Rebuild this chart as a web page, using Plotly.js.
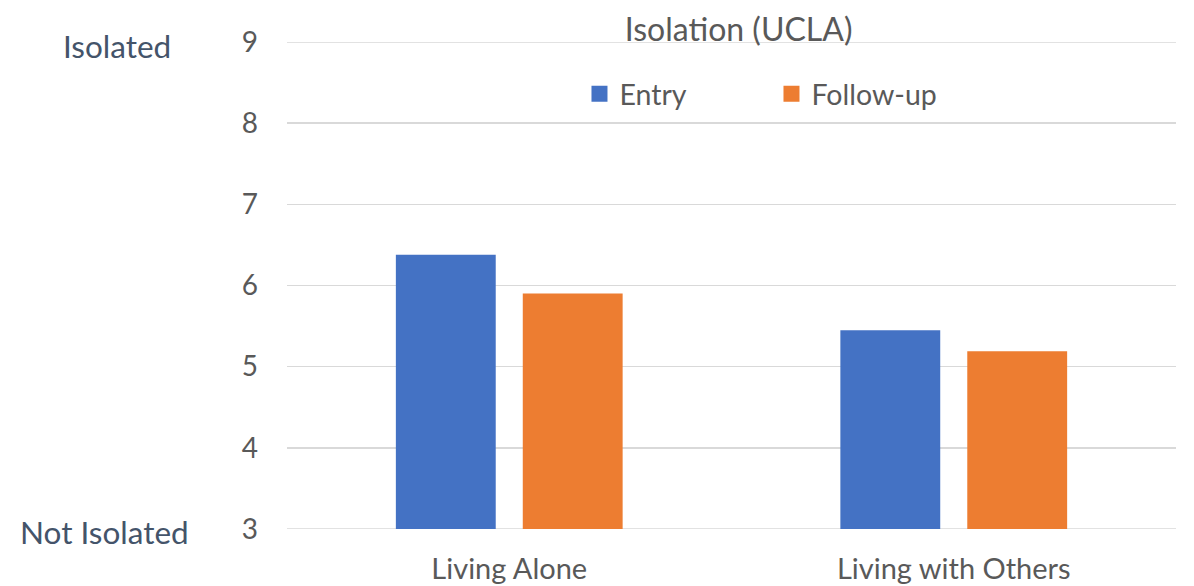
<!DOCTYPE html>
<html><head><meta charset="utf-8">
<script src="https://cdn.plot.ly/plotly-3.0.1.min.js"></script>
<style>html,body{margin:0;padding:0;background:#fff}#chart{width:1194px;height:586px}</style>
</head><body><div id="chart"></div>
<script>
const categories = ["Living Alone", "Living with Others"];
const seriesNames = ["Entry", "Follow-up"];
const entryValues = [6.38, 5.45];
const followUpValues = [5.90, 5.19];
const yTickValues = [3, 4, 5, 6, 7, 8, 9];
const sideLabels = ["Isolated", "Not Isolated"];
const sideLabelValues = [9, 3];
const colors = ["#4472C4", "#ED7D31"];

const FONT = "Lato, 'Open Sans', sans-serif";
const traces = [
  {type: "bar", name: seriesNames[0], x: categories, y: entryValues, marker: {color: colors[0]}, showlegend: false, legendgroup: "a"},
  {type: "bar", name: seriesNames[1], x: categories, y: followUpValues, marker: {color: colors[1]}, showlegend: false, legendgroup: "b"},
  {type: "scatter", mode: "markers", name: seriesNames[0], x: [null], y: [null], legendgroup: "a",
   marker: {symbol: "square", size: 18, color: colors[0]}},
  {type: "scatter", mode: "markers", name: seriesNames[1], x: [null], y: [null], legendgroup: "b",
   marker: {symbol: "square", size: 18, color: colors[1]}}
];
const layout = {
  width: 1194, height: 586,
  margin: {l: 287, r: 18, t: 42, b: 57},
  paper_bgcolor: "#fff", plot_bgcolor: "#fff",
  font: {family: FONT, color: "#595959", size: 28},
  title: {text: "Isolation (UCLA)", xref: "paper", x: 0.508, xanchor: "center", yref: "container", y: 0.95, yanchor: "middle", font: {size: 32, color: "#595959", family: FONT}},
  barmode: "group", bargap: 0.429, bargroupgap: 0.213,
  showlegend: true,
  legend: {orientation: "h", x: 0.329, xanchor: "left", y: 0.893, yanchor: "middle",
           font: {size: 28.5, color: "#595959", family: FONT}, entrywidth: 147, entrywidthmode: "pixels",
           itemwidth: 30, bgcolor: "rgba(0,0,0,0)"},
  xaxis: {type: "category", showgrid: false, showline: false, ticks: "", ticklabelstandoff: 20, tickfont: {size: 29, color: "#595959"}},
  yaxis: {range: [3, 9], tickvals: yTickValues, showgrid: true, gridcolor: "#D9D9D9", gridwidth: 1.5,
          zeroline: false, showline: false, ticks: "", ticklabelstandoff: 28, tickfont: {size: 28, color: "#595959"}},
  annotations: [
    {text: sideLabels[0], xref: "paper", yref: "y", x: -0.191, y: sideLabelValues[0], xanchor: "center", yanchor: "middle", yshift: -4, showarrow: false, font: {size: 31.5, color: "#44546A", family: FONT}},
    {text: sideLabels[1], xref: "paper", yref: "y", x: -0.205, y: sideLabelValues[1], xanchor: "center", yanchor: "middle", yshift: -3, showarrow: false, font: {size: 31.5, color: "#44546A", family: FONT}}
  ],
  shapes: [
    {type: "line", xref: "paper", yref: "y", x0: 0, x1: 1, y0: 3, y1: 3, line: {color: "#D9D9D9", width: 1.5}, layer: "below"},
    {type: "line", xref: "paper", yref: "y", x0: 0, x1: 1, y0: 9, y1: 9, line: {color: "#D9D9D9", width: 1.5}, layer: "below"}
  ]
};
Plotly.newPlot("chart", traces, layout, {displayModeBar: false, staticPlot: true});
</script></body></html>
